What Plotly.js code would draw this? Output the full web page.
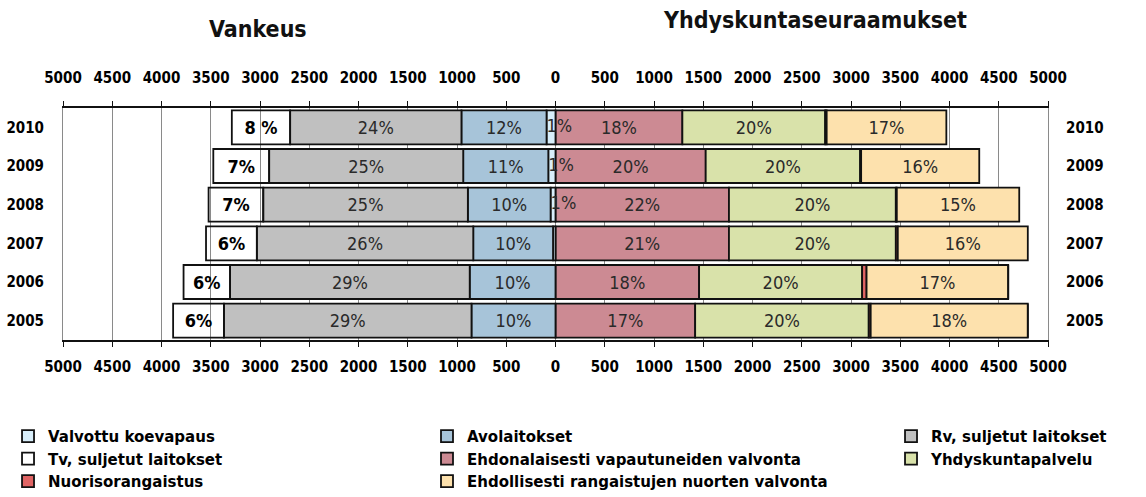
<!DOCTYPE html>
<html>
<head>
<meta charset="utf-8">
<script src="https://cdn.plot.ly/plotly-3.0.1.min.js"></script>
<style>
  html, body { margin: 0; padding: 0; background: #ffffff; }
  #chart { width: 1146px; height: 497px; }
</style>
</head>
<body>
<div id="chart"></div>
<script>
// ---- data ----
var years = [2005, 2006, 2007, 2008, 2009, 2010];
var yearLabels = ['2005', '2006', '2007', '2008', '2009', '2010'];

// Vankeus (left side)
var valvottuKoevapaus = [0, 0, 25, 50, 73, 91];
var avolaitokset      = [853, 871, 810, 840, 864, 864];
var rvSuljetut        = [2513, 2433, 2197, 2077, 1970, 1739];
var tvSuljetut        = [516, 472, 516, 555, 567, 592];

// Yhdyskuntaseuraamukset (right side)
var ehdonalaiset      = [1418, 1458, 1761, 1761, 1525, 1288];
var yhdyskuntapalvelu = [1762, 1655, 1694, 1694, 1568, 1450];
var nuorisorangaistus = [20, 45, 20, 10, 10, 15];
var ehdollisetNuoret  = [1595, 1438, 1320, 1243, 1199, 1215];

// percentage labels shown in the bars
var lblValvottu   = ['', '', '', '1%', '1%', '1%'];
var lblAvo        = ['10%', '10%', '10%', '10%', '11%', '12%'];
var lblRv         = ['29%', '29%', '26%', '25%', '25%', '24%'];
var lblTv         = ['6%', '6%', '6%', '7%', '7%', '8 %'];
var lblEhdonal    = ['17%', '18%', '21%', '22%', '20%', '18%'];
var lblYhdys      = ['20%', '20%', '20%', '20%', '20%', '20%'];
var lblEhdoll     = ['18%', '17%', '16%', '15%', '16%', '17%'];

// axis ticks
var tickVals  = [-5000, -4500, -4000, -3500, -3000, -2500, -2000, -1500, -1000, -500, 0,
                 500, 1000, 1500, 2000, 2500, 3000, 3500, 4000, 4500, 5000];
var tickTexts = ['5000', '4500', '4000', '3500', '3000', '2500', '2000', '1500', '1000', '500', '0',
                 '500', '1000', '1500', '2000', '2500', '3000', '3500', '4000', '4500', '5000'];

// ---- styling ----
var COND = '"DejaVu Sans Condensed", "Liberation Sans Narrow", "DejaVu Sans", sans-serif';
var LEG = '"DejaVu Sans", sans-serif';
var outline = { color: '#111111', width: 1.8 };
var pctFont = { family: COND, size: 18, color: '#2a2a2a' };
var neg = function (arr) { return arr.map(function (v) { return -v; }); };

function barTrace(name, vals, color, labels, legendId, rank, font) {
  return {
    type: 'bar', orientation: 'h',
    name: name,
    y: years, x: vals,
    marker: { color: color, line: outline },
    text: labels,
    textposition: labels ? 'inside' : 'none',
    insidetextanchor: 'middle',
    constraintext: 'none',
    textfont: font || pctFont,
    insidetextfont: font || pctFont,
    hoverinfo: 'skip',
    legend: legendId,
    legendrank: rank
  };
}

var boldFont = { family: COND, size: 18, color: '#000000', weight: 'bold' };

var traces = [
  // right side (positive)
  barTrace('Ehdonalaisesti vapautuneiden valvonta', ehdonalaiset, '#cc8a93', lblEhdonal, 'legend2', 2),
  barTrace('Yhdyskuntapalvelu', yhdyskuntapalvelu, '#d9e2aa', lblYhdys, 'legend3', 2),
  barTrace('Nuorisorangaistus', nuorisorangaistus, '#e06464', null, 'legend', 3),
  barTrace('Ehdollisesti rangaistujen nuorten valvonta', ehdollisetNuoret, '#fde1ad', lblEhdoll, 'legend2', 3),
  // left side (negative), stacked outward from zero
  barTrace('Valvottu koevapaus', neg(valvottuKoevapaus), '#d8eefa', null, 'legend', 1),
  barTrace('Avolaitokset', neg(avolaitokset), '#a7c4d9', lblAvo, 'legend2', 1),
  barTrace('Rv, suljetut laitokset', neg(rvSuljetut), '#c0c0c0', lblRv, 'legend3', 1),
  barTrace('Tv, suljetut laitokset', neg(tvSuljetut), 'rgba(255,255,255,0)', lblTv, 'legend', 2, boldFont),
  // labels for the thin "Valvottu koevapaus" bars, drawn on top
  {
    type: 'scatter', mode: 'text',
    x: neg(valvottuKoevapaus), y: years,
    text: lblValvottu,
    textposition: 'middle right',
    textfont: pctFont,
    xaxis: 'x2', yaxis: 'y2',
    showlegend: false, hoverinfo: 'skip', cliponaxis: false
  }
];

var tickFont = { family: COND, size: 15, color: '#000000', weight: 'bold' };
var legFont = { family: LEG, size: 15, color: '#000000', weight: 'bold' };

function legendAt(x) {
  return {
    xref: 'container', yref: 'container',
    x: x, y: 0.155, xanchor: 'left', yanchor: 'top',
    orientation: 'v', traceorder: 'normal',
    font: legFont, bgcolor: 'rgba(0,0,0,0)', borderwidth: 0,
    itemwidth: 30, tracegroupgap: 0
  };
}

var layout = {
  width: 1146, height: 497,
  margin: { l: 63, r: 98, t: 108, b: 157, pad: 0, autoexpand: false },
  paper_bgcolor: '#ffffff', plot_bgcolor: '#ffffff',
  barmode: 'relative',
  bargap: 0.12,
  hovermode: false,
  showlegend: true,
  legend: legendAt(0.007),
  legend2: legendAt(0.3726),
  legend3: legendAt(0.7775),
  xaxis: {
    range: [-5000, 5000], tickvals: tickVals, ticktext: tickTexts,
    showgrid: true, gridcolor: '#8a8a8a', gridwidth: 1,
    zeroline: false, showline: true, linecolor: '#111111', linewidth: 2,
    ticks: 'outside', ticklen: 5, tickcolor: '#111111', tickwidth: 1,
    ticklabelstandoff: 7,
    tickfont: tickFont, side: 'bottom', fixedrange: true
  },
  xaxis2: {
    range: [-5000, 5000], tickvals: tickVals, ticktext: tickTexts,
    overlaying: 'x', side: 'top', anchor: 'y2',
    showgrid: false, zeroline: false, showline: true, linecolor: '#111111', linewidth: 2,
    ticks: 'outside', ticklen: 5, tickcolor: '#111111', tickwidth: 1,
    ticklabelstandoff: 12,
    tickfont: tickFont, fixedrange: true
  },
  yaxis: {
    range: [2004.5, 2010.5], tickvals: years, ticktext: yearLabels,
    showgrid: false, zeroline: false, ticks: '',
    showline: true, mirror: true, linecolor: '#8a8a8a', linewidth: 1,
    ticklabelstandoff: 15, tickfont: tickFont, fixedrange: true
  },
  yaxis2: {
    range: [2004.5, 2010.5], tickvals: years, ticktext: yearLabels,
    overlaying: 'y', side: 'right', anchor: 'x2',
    showgrid: false, zeroline: false, showline: false, ticks: '',
    ticklabelstandoff: 17, tickfont: tickFont, fixedrange: true
  },
  annotations: [
    { text: 'Vankeus', xref: 'paper', yref: 'paper', x: 0.198, y: 1.34,
      xanchor: 'center', yanchor: 'middle', showarrow: false,
      font: { family: COND, size: 23, color: '#111111', weight: 'bold' } },
    { text: 'Yhdyskuntaseuraamukset', xref: 'paper', yref: 'paper', x: 0.7635, y: 1.38,
      xanchor: 'center', yanchor: 'middle', showarrow: false,
      font: { family: COND, size: 23, color: '#111111', weight: 'bold' } }
  ]
};

Plotly.newPlot('chart', traces, layout, { displayModeBar: false, staticPlot: true });
</script>
</body>
</html>
